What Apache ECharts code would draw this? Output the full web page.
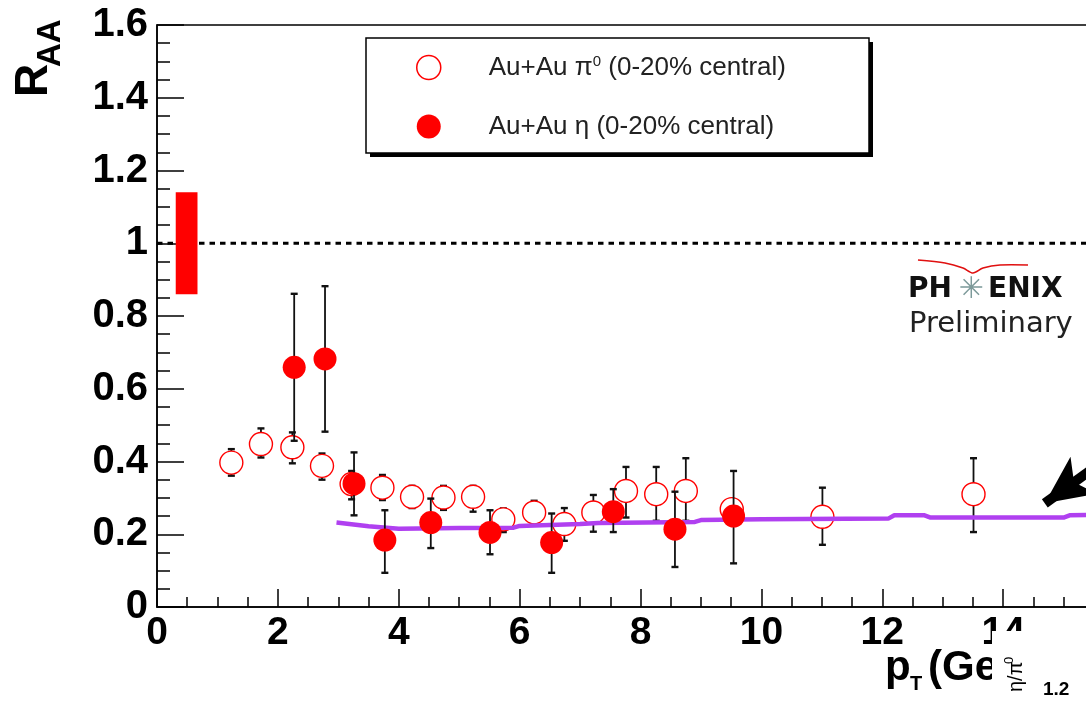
<!DOCTYPE html>
<html>
<head>
<meta charset="utf-8">
<title>R_AA pi0 / eta</title>
<script src="https://cdn.jsdelivr.net/npm/echarts@6/dist/echarts.min.js"></script>
<style>
  html, body { margin: 0; padding: 0; background: #fff; }
  #chart { width: 1086px; height: 707px; }
</style>
</head>
<body>
<div id="chart"></div>
<script>
// pi0, Au+Au 0-20% central (open circles)
var piX  = [1.23, 1.72, 2.24, 2.73, 3.22, 3.73, 4.22, 4.74, 5.23, 5.73, 6.24, 6.74, 7.22, 7.76, 8.26, 8.75, 9.51, 11.01, 13.51];
var piY  = [0.397, 0.448, 0.439, 0.388, 0.338, 0.328, 0.303, 0.301, 0.303, 0.241, 0.260, 0.228, 0.260, 0.319, 0.310, 0.319, 0.269, 0.248, 0.310];
var piLo = [0.361, 0.411, 0.395, 0.350, 0.296, 0.294, 0.272, 0.267, 0.262, 0.206, 0.228, 0.182, 0.207, 0.246, 0.237, 0.237, 0.245, 0.171, 0.206];
var piHi = [0.434, 0.491, 0.480, 0.422, 0.374, 0.363, 0.333, 0.333, 0.333, 0.271, 0.292, 0.272, 0.308, 0.385, 0.385, 0.409, 0.295, 0.328, 0.409];

// eta, Au+Au 0-20% central (filled circles)
var etaX  = [2.27, 2.78, 3.26, 3.77, 4.53, 5.51, 6.53, 7.55, 8.57, 9.54];
var etaY  = [0.659, 0.682, 0.339, 0.184, 0.232, 0.205, 0.177, 0.262, 0.214, 0.250];
var etaLo = [0.457, 0.482, 0.252, 0.094, 0.162, 0.145, 0.094, 0.206, 0.110, 0.120];
var etaHi = [0.861, 0.882, 0.425, 0.266, 0.298, 0.266, 0.257, 0.324, 0.317, 0.374];

// purple curve
var curveX = [2.97, 3.5, 4.0, 5.0, 5.9, 6.0, 7.0, 7.3, 8.9, 9.0, 10.0, 12.1, 12.2, 12.7, 12.8, 15.0, 15.1, 15.5];
var curveY = [0.232, 0.222, 0.215, 0.217, 0.218, 0.223, 0.228, 0.231, 0.234, 0.239, 0.241, 0.243, 0.252, 0.252, 0.246, 0.246, 0.252, 0.253];

// unity line, normalisation band, arrow
var refX = [0, 16];
var refY = [1, 1];
var bandX = [0.31, 0.67];
var bandY = [0.86, 1.14];
var arrowFrom = [15.9, 0.43];
var arrowTo = [14.69, 0.285];

var xTicks = { min: 0, max: 16, interval: 2 };
var yTicks = { min: 0, max: 1.6, interval: 0.2 };

function zip(a, b, c) {
    var out = [];
    for (var i = 0; i < a.length; i++) {
        out.push(c ? [a[i], b[i], c[i]] : [a[i], b[i]]);
    }
    return out;
}

function errRender(params, api) {
    var x = api.value(0);
    var top = api.coord([x, api.value(2)]);
    var bot = api.coord([x, api.value(1)]);
    var hw = 3.5;
    var st = { stroke: '#111', lineWidth: 1.8 };
    var cap = { stroke: '#111', lineWidth: 2.4 };
    return {
        type: 'group',
        children: [
            { type: 'line', shape: { x1: top[0], y1: top[1], x2: bot[0], y2: bot[1] }, style: st },
            { type: 'line', shape: { x1: top[0] - hw, y1: top[1], x2: top[0] + hw, y2: top[1] }, style: cap },
            { type: 'line', shape: { x1: bot[0] - hw, y1: bot[1], x2: bot[0] + hw, y2: bot[1] }, style: cap }
        ]
    };
}

function bandRender(params, api) {
    var p1 = api.coord([api.value(0), api.value(3)]);
    var p2 = api.coord([api.value(1), api.value(2)]);
    return {
        type: 'rect',
        shape: { x: p1[0], y: p1[1], width: p2[0] - p1[0], height: p2[1] - p1[1] },
        style: { fill: '#ff0000' }
    };
}

var LS = '"Liberation Sans", Arial, sans-serif';
var DV = '"DejaVu Sans", sans-serif';

function txt(x, y, s, font, extra) {
    var el = {
        type: 'text', x: x, y: y, z: 10,
        style: { text: s, font: font, fill: '#000', textAlign: 'left', textVerticalAlign: 'middle', align: 'left', verticalAlign: 'middle' }
    };
    if (extra) {
        for (var k in extra) {
            if (k === 'style') {
                for (var s2 in extra.style) el.style[s2] = extra.style[s2];
            } else {
                el[k] = extra[k];
            }
        }
    }
    return el;
}

var myChart = echarts.init(document.getElementById('chart'), null, { renderer: 'canvas' });
var option = {
    animation: false,
    backgroundColor: '#fff',
    grid: {
        left: 157, top: 25, width: 967, height: 582,
        containLabel: false,
        outerBoundsMode: 'none',
        show: true,
        borderColor: '#000',
        borderWidth: 1.5,
        backgroundColor: 'transparent'
    },
    legend: {
        orient: 'vertical',
        left: 416,
        top: 54,
        padding: 0,
        itemWidth: 24,
        itemHeight: 24,
        itemGap: 32,
        selectedMode: false,
        data: [
            { name: 'pi0', icon: 'circle', itemStyle: { color: '#fff', borderColor: '#ff0000', borderWidth: 1.5 } },
            { name: 'eta', icon: 'circle', itemStyle: { color: '#ff0000', borderWidth: 0 } }
        ],
        formatter: function (name) {
            if (name === 'pi0') return '{g|}Au+Au π{sup|0} (0-20% central)';
            return '{g|}Au+Au η (0-20% central)';
        },
        textStyle: {
            fontFamily: LS,
            fontSize: 26,
            lineHeight: 27,
            color: '#222',
            rich: {
                g: { width: 43, fontSize: 26, lineHeight: 27 },
                sup: { fontFamily: LS, fontSize: 15, lineHeight: 15, verticalAlign: 'top', color: '#222' }
            }
        }
    },
    xAxis: {
        type: 'value',
        min: xTicks.min, max: xTicks.max, interval: xTicks.interval,
        axisLine: { lineStyle: { color: '#000', width: 1.5 } },
        axisTick: { inside: true, length: 18, lineStyle: { color: '#000', width: 1.5 } },
        minorTick: { show: true, splitNumber: 4, length: 10, lineStyle: { color: '#000', width: 1.5 } },
        splitLine: { show: false },
        axisLabel: { margin: 7, color: '#000', fontFamily: LS, fontWeight: 'bold', fontSize: 39 }
    },
    yAxis: {
        type: 'value',
        min: yTicks.min, max: yTicks.max, interval: yTicks.interval,
        axisLine: { lineStyle: { color: '#000', width: 1.5 } },
        axisTick: { inside: true, length: 27, lineStyle: { color: '#000', width: 1.5 } },
        minorTick: { show: true, splitNumber: 4, length: 13, lineStyle: { color: '#000', width: 1.5 } },
        splitLine: { show: false },
        axisLabel: { margin: 9, color: '#000', fontFamily: LS, fontWeight: 'bold', fontSize: 40 }
    },
    series: [
        {
            name: 'unity', type: 'line', z: 1, silent: true,
            data: zip(refX, refY), symbol: 'none',
            lineStyle: { color: '#000', width: 3, type: [5.5, 5] }
        },
        {
            name: 'band', type: 'custom', z: 3, silent: true,
            data: [[bandX[0], bandX[1], bandY[0], bandY[1]]],
            renderItem: bandRender
        },
        {
            name: 'pi0err', type: 'custom', z: 3, silent: true,
            data: zip(piX, piLo, piHi),
            renderItem: errRender
        },
        {
            name: 'pi0', type: 'scatter', z: 4,
            data: zip(piX, piY),
            symbol: 'circle', symbolSize: 23,
            itemStyle: { color: '#fff', borderColor: '#ff0000', borderWidth: 1.4, opacity: 1 }
        },
        {
            name: 'curve', type: 'line', z: 5, silent: true,
            data: zip(curveX, curveY), symbol: 'none',
            lineStyle: { color: '#b040f0', width: 4.5 }
        },
        {
            name: 'etaerr', type: 'custom', z: 6, silent: true,
            data: zip(etaX, etaLo, etaHi),
            renderItem: errRender
        },
        {
            name: 'eta', type: 'scatter', z: 7,
            data: zip(etaX, etaY),
            symbol: 'circle', symbolSize: 23,
            itemStyle: { color: '#ff0000', opacity: 1 }
        },
        {
            name: 'arrow', type: 'line', z: 8, silent: true, data: [],
            markLine: {
                silent: true,
                symbol: ['none', 'arrow'],
                symbolSize: [34, 48],
                label: { show: false },
                lineStyle: { color: '#000', width: 10, type: 'solid' },
                data: [[{ coord: arrowFrom }, { coord: arrowTo }]]
            }
        }
    ],
    graphic: {
        elements: [
            // legend frame: hard shadow, then box
            { type: 'rect', z: 1, shape: { x: 370, y: 42, width: 503, height: 115 }, style: { fill: '#000' } },
            { type: 'rect', z: 2, shape: { x: 366, y: 38, width: 503, height: 115 }, style: { fill: '#fff', stroke: '#000', lineWidth: 1.5 } },
            // y title R_AA
            txt(34, 97, 'R', 'bold 46px ' + LS, { rotation: Math.PI / 2 }),
            txt(51, 67, 'AA', 'bold 33px ' + LS, { rotation: Math.PI / 2 }),
            // x title p_T (GeV/c)
            txt(885, 668, 'p', 'bold 42px ' + LS),
            txt(910, 684, 'T', 'bold 20px ' + LS),
            txt(928, 668, '(GeV/c)', 'bold 42px ' + LS),
            // PHENIX logo
            {
                type: 'polyline', z: 10,
                shape: { points: [[918, 260], [945, 263], [963, 268], [973, 273], [983, 268], [1000, 265], [1028, 265]], smooth: 0.3 },
                style: { stroke: '#e01010', lineWidth: 1.6, fill: null }
            },
            txt(908, 290, 'PH', 'bold 28px ' + DV, { style: { fill: '#111' } }),
            txt(971, 290, '✳', '30px ' + DV, { style: { fill: '#7d9a9a', textAlign: 'center', align: 'center' } }),
            txt(988, 290, 'ENIX', 'bold 28px ' + DV, { style: { fill: '#111' } }),
            txt(909, 324, 'Preliminary', '29px ' + DV, { style: { fill: '#222' } }),
            // corner of an overlapping inset
            { type: 'rect', z: 100, shape: { x: 992, y: 631, width: 100, height: 80 }, style: { fill: '#fff' } },
            txt(1016, 692, 'η/π', '20px ' + LS, { z: 101, rotation: Math.PI / 2 }),
            txt(1009, 664, '0', '13px ' + LS, { z: 101, rotation: Math.PI / 2 }),
            txt(1043, 690, '1.2', 'bold 19px ' + LS, { z: 101 })
        ]
    }
};
myChart.setOption(option);
</script>
</body>
</html>
